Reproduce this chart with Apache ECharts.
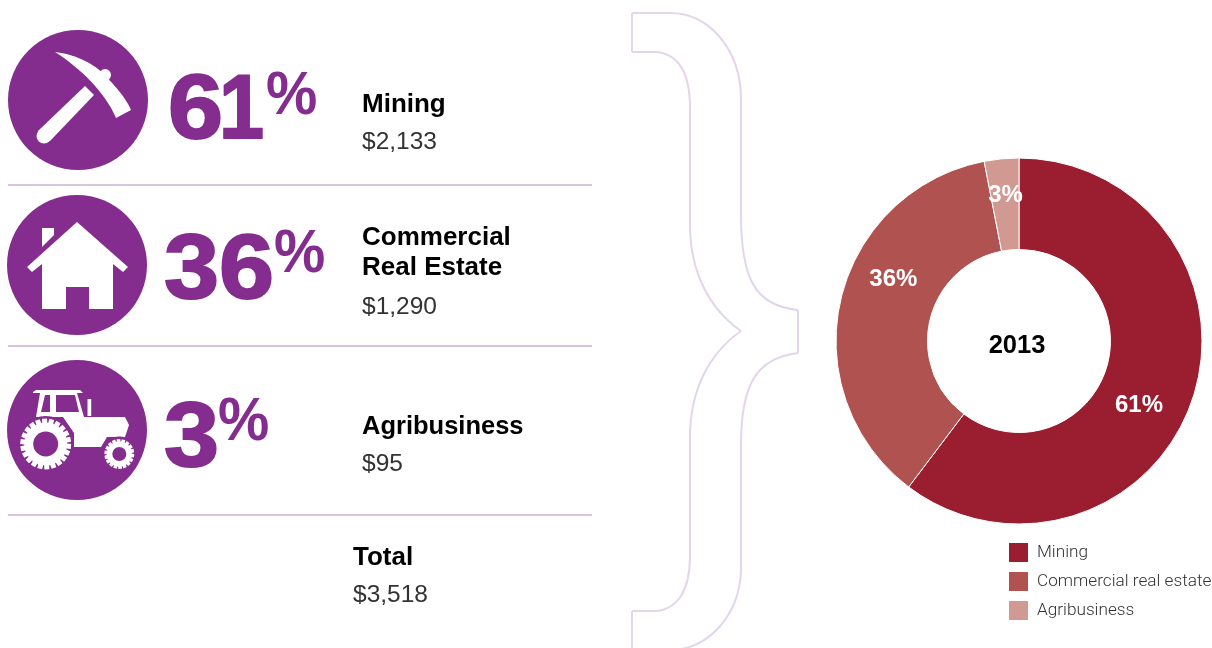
<!DOCTYPE html>
<html>
<head>
<meta charset="utf-8">
<title>Portfolio by sector 2013</title>
<script src="https://cdn.jsdelivr.net/npm/echarts@6/dist/echarts.min.js"></script>
<style>
	html, body { margin: 0; padding: 0; background: #fff; }
	#main { width: 1212px; height: 648px; }
</style>
</head>
<body>
<div id="main"></div>
<script type="text/javascript">
	var categories = ['Mining', 'Commercial real estate', 'Agribusiness'];
	var amounts = [2133, 1290, 95];
	var percents = [61, 36, 3];
	// slice sizes as drawn in the picture
	var sliceShares = [60.3, 36.65, 3.05];
	var total = 3518;
	var year = '2013';
	var sliceColors = ['#9b1d30', '#b05350', '#d09a92'];

	var purple = '#842d8f';
	var sans = '"Liberation Sans", Arial, sans-serif';
	var light = 'Roboto, "Liberation Sans", sans-serif';

	function money(v) {
		return '$' + v.toLocaleString('en-US');
	}

	function text(x, y, str, font, fill) {
		return { type: 'text', style: { x: x, y: y, text: str, font: font, fill: fill, textVerticalAlign: 'middle' } };
	}

	// big figures are thickened with a stroke of the same colour
	function figure(x, y, str, sx) {
		return { type: 'text', x: x, y: y, scaleX: sx || 1.1, style: { x: 0, y: 0, text: str, font: 'bold 90px ' + sans, fill: purple, stroke: purple, lineWidth: 2, textVerticalAlign: 'middle' } };
	}

	function pct(x, y) {
		return { type: 'text', x: x, y: y, scaleX: 0.93, style: { x: 0, y: 0, text: '%', font: 'bold 62px ' + sans, fill: purple, textVerticalAlign: 'middle' } };
	}

	function poly(points, fill) {
		return { type: 'polygon', shape: { points: points }, style: { fill: fill || '#fff' } };
	}

	function circle(cx, cy, r, fill) {
		return { type: 'circle', shape: { cx: cx, cy: cy, r: r }, style: { fill: fill || '#fff' } };
	}

	// points along a cubic curve, for the icon outlines
	function curve(p0, c1, c2, p3) {
		var pts = [];
		for (var i = 0; i <= 16; i++) {
			var t = i / 16, u = 1 - t;
			pts.push([
				u * u * u * p0[0] + 3 * u * u * t * c1[0] + 3 * u * t * t * c2[0] + t * t * t * p3[0],
				u * u * u * p0[1] + 3 * u * u * t * c1[1] + 3 * u * t * t * c2[1] + t * t * t * p3[1]
			]);
		}
		return pts;
	}

	// tyre with lugs
	function wheel(cx, cy, r, hole, n) {
		var pts = [];
		for (var i = 0; i < n; i++) {
			var a = i / n * Math.PI * 2, s = Math.PI * 2 / n;
			[[0, r], [0.68, r], [0.76, r * 0.84], [0.92, r * 0.84]].forEach(function (p) {
				pts.push([cx + p[1] * Math.cos(a + p[0] * s), cy + p[1] * Math.sin(a + p[0] * s)]);
			});
		}
		return [circle(cx, cy, r + 2.5, purple), poly(pts), circle(cx, cy, hole, purple)];
	}

	var pick = [
		circle(78, 100, 70, purple),
		poly(curve([55, 52], [72, 54], [86, 60], [98, 69])
			.concat(curve([98, 69], [105, 75], [125, 95], [131, 110]))
			.concat([[116, 118]])
			.concat(curve([116, 118], [105, 92], [80, 68], [55, 52]))),
		circle(105, 75, 6),
		poly([[85, 86], [94, 95], [50, 141], [38, 131]]),
		circle(44, 136, 7.5)
	];

	var house = [
		circle(77, 265, 70, purple),
		poly([[77, 222], [128, 267], [123, 272], [113, 264], [113, 309], [89, 309], [89, 287], [66, 287], [66, 309], [42, 309], [42, 264], [32, 272], [27, 267]]),
		poly([[42, 228], [54, 228], [54, 235], [42, 247]])
	];

	var tractor = [
		circle(77, 430, 70, purple),
		poly([[33, 392], [36, 390], [80, 390], [83, 393], [33, 393]]),
		poly([[40, 393], [77, 393], [84, 417], [125, 417], [129, 425], [125, 437], [107, 437], [101, 447], [74, 447], [74, 433], [63, 417], [36, 417]]),
		poly([[45, 395], [50, 395], [50, 412], [41, 412]], purple),
		poly([[56, 395], [75, 395], [79, 412], [56, 412]], purple),
		{ type: 'rect', shape: { x: 87.5, y: 399, width: 3.7, height: 17 }, style: { fill: '#fff' } }
	].concat(wheel(45.7, 444, 25.5, 12.5, 22)).concat(wheel(119.3, 454, 15, 7, 18));

	// bracket outline between the list and the donut
	var bs = { stroke: '#e2d6ea', lineWidth: 2, fill: 'none' };
	function bLine(x1, y1, x2, y2) {
		return { type: 'line', shape: { x1: x1, y1: y1, x2: x2, y2: y2 }, style: bs };
	}
	function bCurve(x1, y1, c1x, c1y, c2x, c2y, x2, y2) {
		return { type: 'bezierCurve', shape: { x1: x1, y1: y1, cpx1: c1x, cpy1: c1y, cpx2: c2x, cpy2: c2y, x2: x2, y2: y2 }, style: bs };
	}
	var bracket = [
		bLine(632, 13, 670, 13),
		bCurve(670, 13, 708, 13, 741, 48, 741, 100),
		bLine(741, 100, 741, 215),
		bCurve(741, 215, 741, 280, 756, 306, 798, 310),
		bLine(798, 310, 798, 353),
		bCurve(798, 353, 756, 358, 741, 385, 741, 445),
		bLine(741, 445, 741, 567),
		bCurve(741, 567, 741, 615, 708, 650, 670, 650),
		bLine(632, 13, 632, 52),
		bLine(632, 52, 656, 52),
		bCurve(656, 52, 678, 54, 690, 72, 690, 108),
		bLine(690, 108, 690, 225),
		bCurve(690, 225, 690, 270, 708, 308, 741, 331),
		bCurve(741, 331, 708, 354, 690, 392, 690, 437),
		bLine(690, 437, 690, 556),
		bCurve(690, 556, 690, 590, 678, 609, 656, 611),
		bLine(656, 611, 632, 611),
		bLine(632, 611, 632, 650)
	];

	var rules = [185, 346, 515].map(function (y) {
		return { type: 'line', shape: { x1: 8, y1: y, x2: 592, y2: y }, style: { stroke: '#cfaed8', lineWidth: 1.5 } };
	});

	var bold = 'bold 26px ' + sans;
	var thin = '400 24.5px ' + sans;

	var labels = [
		figure(168, 113.5, '6'),
		figure(219, 113.5, '1', 0.9),
		pct(266, 97),
		text(362, 105, categories[0], bold, '#000'),
		text(362, 142, money(amounts[0]), thin, '#333'),

		figure(164, 273, String(percents[1])),
		pct(274, 255),
		text(362, 238, 'Commercial', bold, '#000'),
		text(362, 268, 'Real Estate', bold, '#000'),
		text(362, 307, money(amounts[1]), thin, '#333'),

		figure(164, 441.5, String(percents[2])),
		pct(218, 423),
		text(362, 427, 'Agribusiness', 'bold 25.5px ' + sans, '#000'),
		text(362, 464, money(amounts[2]), thin, '#333'),

		text(353, 558, 'Total', bold, '#000'),
		text(353, 595, money(total), thin, '#333'),

		{ type: 'text', style: { x: 1017, y: 345.5, text: year, font: 'bold 25.5px ' + sans, fill: '#000', textAlign: 'center', textVerticalAlign: 'middle' } }
	];

	var labelOffsets = [[-13, 20], [11, -30], [0, -6]];

	var myChart = echarts.init(document.getElementById('main'), null, { renderer: 'canvas' });

	myChart.setOption({
		animation: false,
		legend: {
			left: 1007,
			top: 541,
			padding: 0,
			orient: 'vertical',
			icon: 'rect',
			itemWidth: 21,
			itemHeight: 21,
			itemGap: 6,
			selectedMode: false,
			data: categories,
			textStyle: { fontFamily: light, fontWeight: 300, fontSize: 17.2, color: '#333', padding: [2, 0, 0, 3] }
		},
		graphic: { elements: bracket.concat(rules, pick, house, tractor, labels) },
		series: [{
			type: 'pie',
			center: [1019, 341],
			radius: [91.5, 183],
			startAngle: 90,
			silent: true,
			avoidLabelOverlap: false,
			itemStyle: { borderColor: '#fff', borderWidth: 1 },
			labelLine: { show: false },
			data: categories.map(function (name, i) {
				return {
					name: name,
					value: sliceShares[i],
					itemStyle: { color: sliceColors[i] },
					label: {
						show: true,
						position: 'inside',
						offset: labelOffsets[i],
						formatter: percents[i] + '%',
						color: '#fff',
						fontFamily: sans,
						fontWeight: 'bold',
						fontSize: 24
					}
				};
			})
		}]
	});
</script>
</body>
</html>
